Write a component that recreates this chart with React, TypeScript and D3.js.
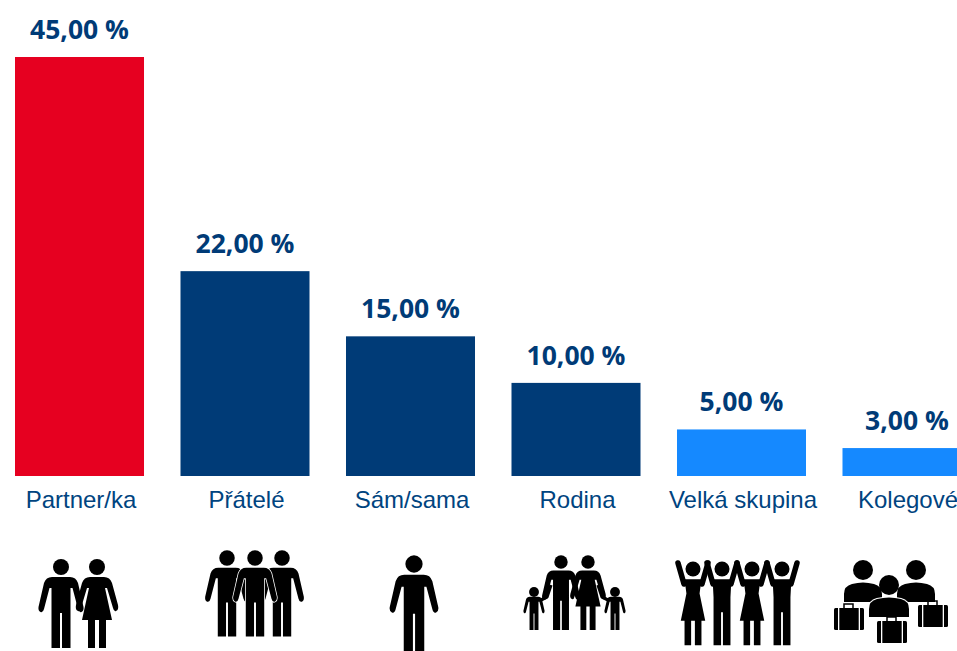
import React from "react";
import * as d3 from "d3";

const categories = ["Partner/ka", "Přátelé", "Sám/sama", "Rodina", "Velká skupina", "Kolegové"];
const values = [45, 22, 15, 10, 5, 3];
const colors = ["#e60020", "#003b77", "#003b77", "#003b77", "#1589ff", "#1589ff"];

const W = 957, H = 651, base = 476;
const x = d3.scaleBand<string>().domain(categories).range([-3.25, 989.75]).paddingInner(0.2205).paddingOuter(0.11027);
const y = d3.scaleLinear().domain([0, 45]).range([base, 57]);
const fmt = (v: number) => v.toFixed(2).replace(".", ",") + " %";

const MAN = "M-9,10 L9,10 Q15,10 17,16 L22.5,40 Q23,44 20.5,45 Q18,46 17,42 L11.5,21 L9.5,21 L9.5,81 L1,81 L1,46 L-1,46 L-1,81 L-9.5,81 L-9.5,21 L-11.5,21 L-17,42 Q-18,46 -20.5,45 Q-23,44 -22.5,40 L-17,16 Q-15,10 -9,10 Z";
const WOMAN = "M-7,10 L7,10 Q13,10 15,16 L21,38 Q22,43 19,44 Q17,45 16,41 L10,21 L8,21 L15,53 L9,53 L9,81 L2,81 L2,53 L-2,53 L-2,81 L-9,81 L-9,53 L-15,53 L-8,21 L-10,21 L-16,41 Q-17,45 -19,44 Q-22,43 -21,38 L-15,16 Q-13,10 -7,10 Z";
const MAN_UP = "M-10,11 L10,11 L9,30 L9,81 L1,81 L1,46 L-1,46 L-1,81 L-9,81 L-9,30 Z";
const WOMAN_UP = "M-9,11 L9,11 L7,26 L13,55 L9,55 L9,81 L2,81 L2,55 L-2,55 L-2,81 L-9,81 L-9,55 L-13,55 L-7,26 Z";

function Person({ cx, cy, s, d, halo, r = 8 }: { cx: number; cy: number; s: number; d: string; halo?: boolean; r?: number }) {
  return (
    <g transform={`translate(${cx},${cy}) scale(${s})`} fill="#000">
      <circle r={r} />
      <path d={d} stroke={halo ? "#fff" : "none"} strokeWidth={halo ? 1.6 : 0} paintOrder="stroke" />
    </g>
  );
}

function Raised({ cx, woman }: { cx: number; woman: boolean }) {
  return (
    <g>
      <Person cx={cx} cy={569} s={0.94} d={woman ? WOMAN_UP : MAN_UP} />
      <path d={`M${cx - 9},${584} L${cx - 15},${563} M${cx + 9},${584} L${cx + 15},${563}`} fill="none" stroke="#000" strokeWidth={5.5} strokeLinecap="round" strokeLinejoin="round" />
    </g>
  );
}

function Bust({ cx, cy, w, halo }: { cx: number; cy: number; w: number; halo?: boolean }) {
  return (
    <g fill="#000">
      <circle cx={cx} cy={cy} r={10} />
      <path
        d={`M${cx - w},${cy + 32} L${cx - w},${cy + 24} Q${cx - w},${cy + 16} ${cx - w + 8},${cy + 14} Q${cx},${cy + 11} ${cx + w - 8},${cy + 14} Q${cx + w},${cy + 16} ${cx + w},${cy + 24} L${cx + w},${cy + 32} Z`}
        stroke={halo ? "#fff" : "none"} strokeWidth={halo ? 2 : 0} paintOrder="stroke"
      />
    </g>
  );
}

function Case({ x0, y0 }: { x0: number; y0: number }) {
  return (
    <g>
      <rect x={x0 + 10} y={y0 - 4} width={9} height={6} fill="none" stroke="#000" strokeWidth={1.5} />
      <rect x={x0} y={y0} width={30} height={22} rx={1.5} fill="#000" />
      <rect x={x0 + 4} y={y0} width={1.3} height={22} fill="#fff" />
      <rect x={x0 + 24.7} y={y0} width={1.3} height={22} fill="#fff" />
    </g>
  );
}

export default function App() {
  const anchors = [81, 246.5, 412, 577.5, 743, 908];
  return (
    <svg width={W} height={H} viewBox={`0 0 ${W} ${H}`} style={{ position: "absolute", left: 0, top: 0, background: "#fff" }}>
      {categories.map((c, i) => {
        const bx = x(c)!, bw = x.bandwidth(), mid = bx + bw / 2;
        return (
          <g key={c}>
            <rect x={bx} y={y(values[i])} width={bw} height={base - y(values[i])} fill={colors[i]} />
            <text x={mid} y={y(values[i]) - 18} textAnchor="middle" fontFamily="'Open Sans', sans-serif" fontWeight={700} fontSize={26.5} fill="#003b77">{fmt(values[i])}</text>
          </g>
        );
      })}
      {categories.map((c, i) => (
        <text key={c} x={anchors[i]} y={508} textAnchor="middle" fontFamily="'Liberation Sans', sans-serif" fontSize={24} fill="#00447f">{c}</text>
      ))}
      <g>
        <Person cx={61} cy={567} s={1} d={MAN} />
        <Person cx={97} cy={567} s={1} d={WOMAN} />
        <Person cx={227} cy={558} s={0.97} d={MAN} />
        <Person cx={282} cy={558} s={0.97} d={MAN} />
        <Person cx={255} cy={558} s={0.97} d={MAN} halo />
        <Person cx={414} cy={564} s={1.08} d={MAN} />
        <Person cx={561} cy={562} s={0.84} d={MAN} />
        <Person cx={588} cy={562} s={0.84} d={WOMAN} />
        <Person cx={534} cy={592} s={0.47} d={MAN} r={10.5} />
        <Person cx={615} cy={592} s={0.47} d={MAN} r={10.5} />
        <path d="M541,600 L547,597 L551,585 M608,600 L602,597 L598,585" fill="none" stroke="#000" strokeWidth={3.2} strokeLinejoin="round" />
        <Raised cx={693} woman />
        <Raised cx={722} woman={false} />
        <Raised cx={752} woman />
        <Raised cx={782} woman={false} />
        <Bust cx={863} cy={570} w={19} />
        <Bust cx={916} cy={570} w={19} />
        <Bust cx={889} cy={585} w={20} halo />
        <Case x0={834} y0={608} />
        <Case x0={918} y0={605} />
        <Case x0={877} y0={621} />
      </g>
    </svg>
  );
}
